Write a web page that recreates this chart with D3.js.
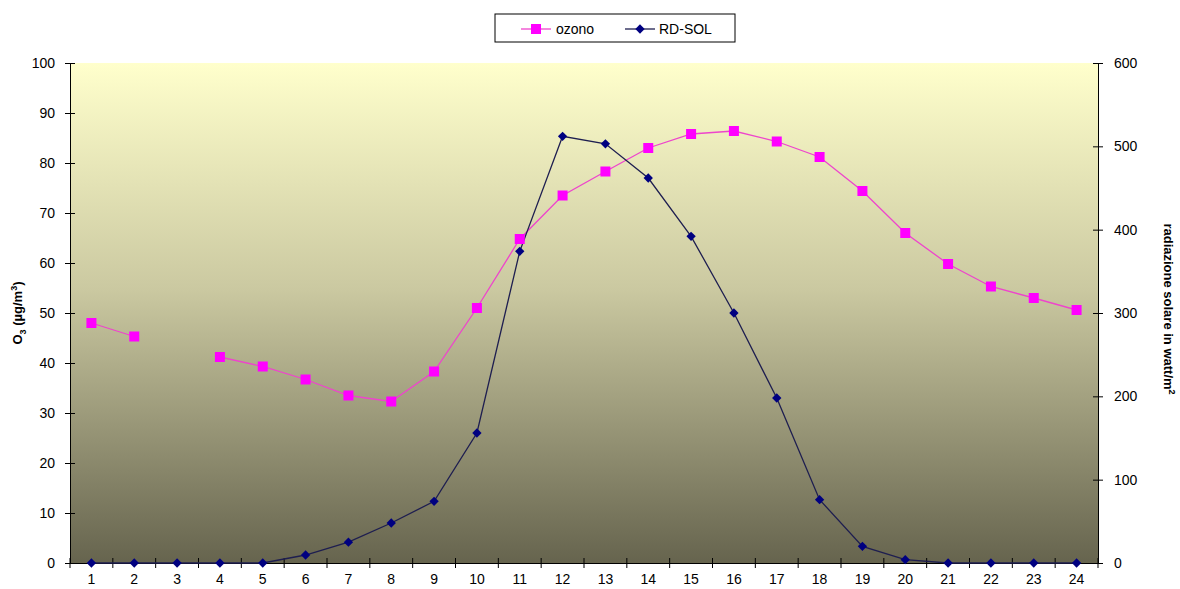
<!DOCTYPE html>
<html><head><meta charset="utf-8">
<script src="https://cdn.jsdelivr.net/npm/d3@7"></script>
<style>body{margin:0;background:#fff;}svg{display:block;font-family:Arial,"Liberation Sans",sans-serif;}</style>
</head><body><svg id="c" width="1180" height="589"></svg>
<script>
const hours = ["1","2","3","4","5","6","7","8","9","10","11","12","13","14","15","16","17","18","19","20","21","22","23","24"];
const ozono = [48.0,45.3,null,41.2,39.3,36.7,33.5,32.3,38.3,51.0,64.8,73.5,78.3,83.0,85.8,86.4,84.3,81.2,74.4,66.0,59.8,55.3,53.0,50.6];
const rdsol = [0,0,0,0,0,9.6,25,48,74,156,374,512,503,462,392,300,198,76,20,4,0,0,0,0];
const leftTicks = [0,10,20,30,40,50,60,70,80,90,100];
const rightTicks = [0,100,200,300,400,500,600];

const svg = d3.select("#c");
const L=70, R=1098, T=63, B=563;
const x = d3.scaleBand().domain(hours).range([L,R]);
const yL = d3.scaleLinear().domain([0,100]).range([B,T]);
const yR = d3.scaleLinear().domain([0,600]).range([B,T]);

const defs = svg.append("defs");
const g = defs.append("linearGradient").attr("id","bg").attr("x1",0).attr("x2",0).attr("y1",0).attr("y2",1);
g.append("stop").attr("offset","0%").attr("stop-color","#ffffcc");
g.append("stop").attr("offset","45%").attr("stop-color","#cbc9a1");
g.append("stop").attr("offset","100%").attr("stop-color","#66644e");
svg.append("rect").attr("x",L).attr("y",T).attr("width",R-L).attr("height",B-T).attr("fill","url(#bg)");

// axes
const axL = svg.append("g").attr("transform",`translate(${L},0)`).call(d3.axisLeft(yL).tickValues(leftTicks).tickSize(5).tickSizeOuter(0));
const axR = svg.append("g").attr("transform",`translate(${R},0)`).call(d3.axisRight(yR).tickValues(rightTicks).tickSize(5).tickSizeOuter(0));
axL.selectAll(".tick line").attr("x1",5).attr("x2",-5);
axR.selectAll(".tick line").attr("x1",-5).attr("x2",5);
axL.selectAll(".tick text").attr("x",-15);
axR.selectAll(".tick text").attr("x",16);
const axB = svg.append("g").attr("transform",`translate(0,${B})`).call(d3.axisBottom(x).tickSize(0).tickSizeOuter(0));
axB.selectAll(".tick text").attr("y",11);
// bottom ticks at band boundaries
svg.append("g").selectAll("line").data(hours).join("line")
  .attr("x1",d=>x(d)).attr("x2",d=>x(d)).attr("y1",B-5).attr("y2",B+5).attr("stroke","#000");
svg.append("line").attr("x1",R).attr("x2",R).attr("y1",B-5).attr("y2",B+5).attr("stroke","#000");
svg.selectAll(".domain").attr("stroke","#000");
svg.selectAll(".tick line").attr("stroke","#000");
svg.selectAll(".tick text").attr("font-size",14).attr("fill","#000");

const cx = d=>x(d)+x.bandwidth()/2;
// ozono line
const lineO = d3.line().defined(d=>d.v!=null).x(d=>cx(d.h)).y(d=>yL(d.v));
const od = hours.map((h,i)=>({h,v:ozono[i]}));
svg.append("path").datum(od).attr("d",lineO).attr("fill","none").attr("stroke","#ee44cc").attr("stroke-width",1.3);
// rdsol line
const rd = hours.map((h,i)=>({h,v:rdsol[i]}));
const lineR = d3.line().x(d=>cx(d.h)).y(d=>yR(d.v));
svg.append("path").datum(rd).attr("d",lineR).attr("fill","none").attr("stroke","#1e1e50").attr("stroke-width",1.3);
svg.append("g").selectAll("rect").data(rd).join("rect")
  .attr("x",-3.3).attr("y",-3.3).attr("width",6.6).attr("height",6.6)
  .attr("transform",d=>`translate(${cx(d.h)},${yR(d.v)}) rotate(45)`).attr("fill","#000080");
svg.append("g").selectAll("rect").data(od.filter(d=>d.v!=null)).join("rect")
  .attr("x",d=>cx(d.h)-5).attr("y",d=>yL(d.v)-5).attr("width",10).attr("height",10).attr("fill","#ff00ff");

// axis titles
const tl = svg.append("text").attr("transform",`translate(22,${(T+B)/2}) rotate(-90)`).attr("text-anchor","middle").attr("font-size",13).attr("font-weight","bold");
tl.append("tspan").text("O");
tl.append("tspan").text("3").attr("font-size",9).attr("dy",4);
tl.append("tspan").text(" (µg/m").attr("dy",-4);
tl.append("tspan").text("3").attr("font-size",9).attr("dy",-5);
tl.append("tspan").text(")").attr("dy",5);
const tr = svg.append("text").attr("transform",`translate(1164,${(T+B)/2-4}) rotate(90)`).attr("text-anchor","middle").attr("font-size",13).attr("font-weight","bold");
tr.append("tspan").text("radiazione solare in watt/m");
tr.append("tspan").text("2").attr("font-size",9).attr("dy",-5);

// legend
const lg = svg.append("g");
lg.append("rect").attr("x",495).attr("y",14).attr("width",240).attr("height",28).attr("fill","#fff").attr("stroke","#000");
lg.append("line").attr("x1",521).attr("x2",551).attr("y1",29).attr("y2",29).attr("stroke","#ee44cc").attr("stroke-width",1.3);
lg.append("rect").attr("x",531).attr("y",24).attr("width",10).attr("height",10).attr("fill","#ff00ff");
lg.append("text").attr("x",556).attr("y",34).attr("font-size",14).text("ozono");
lg.append("line").attr("x1",625).attr("x2",655).attr("y1",29).attr("y2",29).attr("stroke","#1e1e50").attr("stroke-width",1.3);
lg.append("rect").attr("x",-3.3).attr("y",-3.3).attr("width",6.6).attr("height",6.6).attr("transform","translate(640,29) rotate(45)").attr("fill","#000080");
lg.append("text").attr("x",659).attr("y",34).attr("font-size",14).text("RD-SOL");
</script></body></html>
